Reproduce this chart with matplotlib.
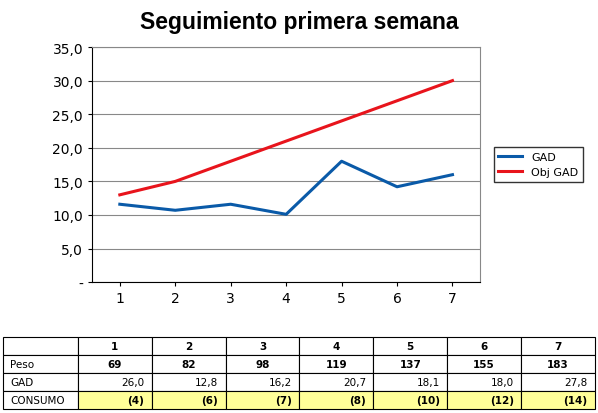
import matplotlib.pyplot as plt

days = [1, 2, 3, 4, 5, 6, 7]
gad = [11.6, 10.7, 11.6, 10.1, 18.0, 14.2, 16.0]
obj_gad = [13.0, 15.0, 18.0, 21.0, 24.0, 27.0, 30.0]
peso = ["69", "82", "98", "119", "137", "155", "183"]
gad_tab = ["26,0", "12,8", "16,2", "20,7", "18,1", "18,0", "27,8"]
consumo = ["(4)", "(6)", "(7)", "(8)", "(10)", "(12)", "(14)"]

fig = plt.figure(figsize=(5.98, 4.14), dpi=100)
fig.text(0.5, 0.945, "Seguimiento primera semana", ha="center", va="center",
         fontsize=16.5, fontweight="bold", family="Liberation Sans")

ax = fig.add_axes([0.154, 0.316, 0.649, 0.568])
ax.plot(days, gad, color="#0a5aa8", lw=2.2, label="GAD")
ax.plot(days, obj_gad, color="#e8141c", lw=2.2, label="Obj GAD")
ax.set_xlim(0.5, 7.5)
ax.set_ylim(0, 35)
ax.set_yticks(range(0, 36, 5))
ax.set_yticklabels(["-"] + [f"{v:.1f}".replace(".", ",") for v in range(5, 36, 5)])
ax.set_xticks(days)
ax.grid(axis="y", color="#888888", lw=0.8)
ax.tick_params(labelsize=10, length=3)
for s in ["top", "right"]:
    ax.spines[s].set_color("#888888")
ax.legend(loc="center left", bbox_to_anchor=(1.02, 0.5), fontsize=8,
          frameon=True, fancybox=False, edgecolor="black", handlelength=2.2)

tax = fig.add_axes([3 / 598, 4 / 414, 592 / 598, 72 / 414])
tax.axis("off")
rows = [[""] + [str(d) for d in days], ["Peso"] + peso,
        ["GAD"] + gad_tab, ["CONSUMO"] + consumo]
tbl = tax.table(cellText=rows, bbox=[0, 0, 1, 1], cellLoc="center",
                colWidths=[75] + [74] * 7)
tbl.auto_set_font_size(False)
for (r, c), cell in tbl.get_celld().items():
    cell.set_linewidth(0.8)
    cell.get_text().set_fontsize(7.5)
    if c == 0:
        cell.get_text().set_ha("left")
        cell._loc = "left"
    elif r in (0, 1):
        cell.get_text().set_fontweight("bold")
    else:
        cell._loc = "right"
        cell.get_text().set_ha("right")
    if r == 3 and c > 0:
        cell.set_facecolor("#ffff99")
        cell.get_text().set_fontweight("bold")

fig.savefig("out.png", dpi=100)
